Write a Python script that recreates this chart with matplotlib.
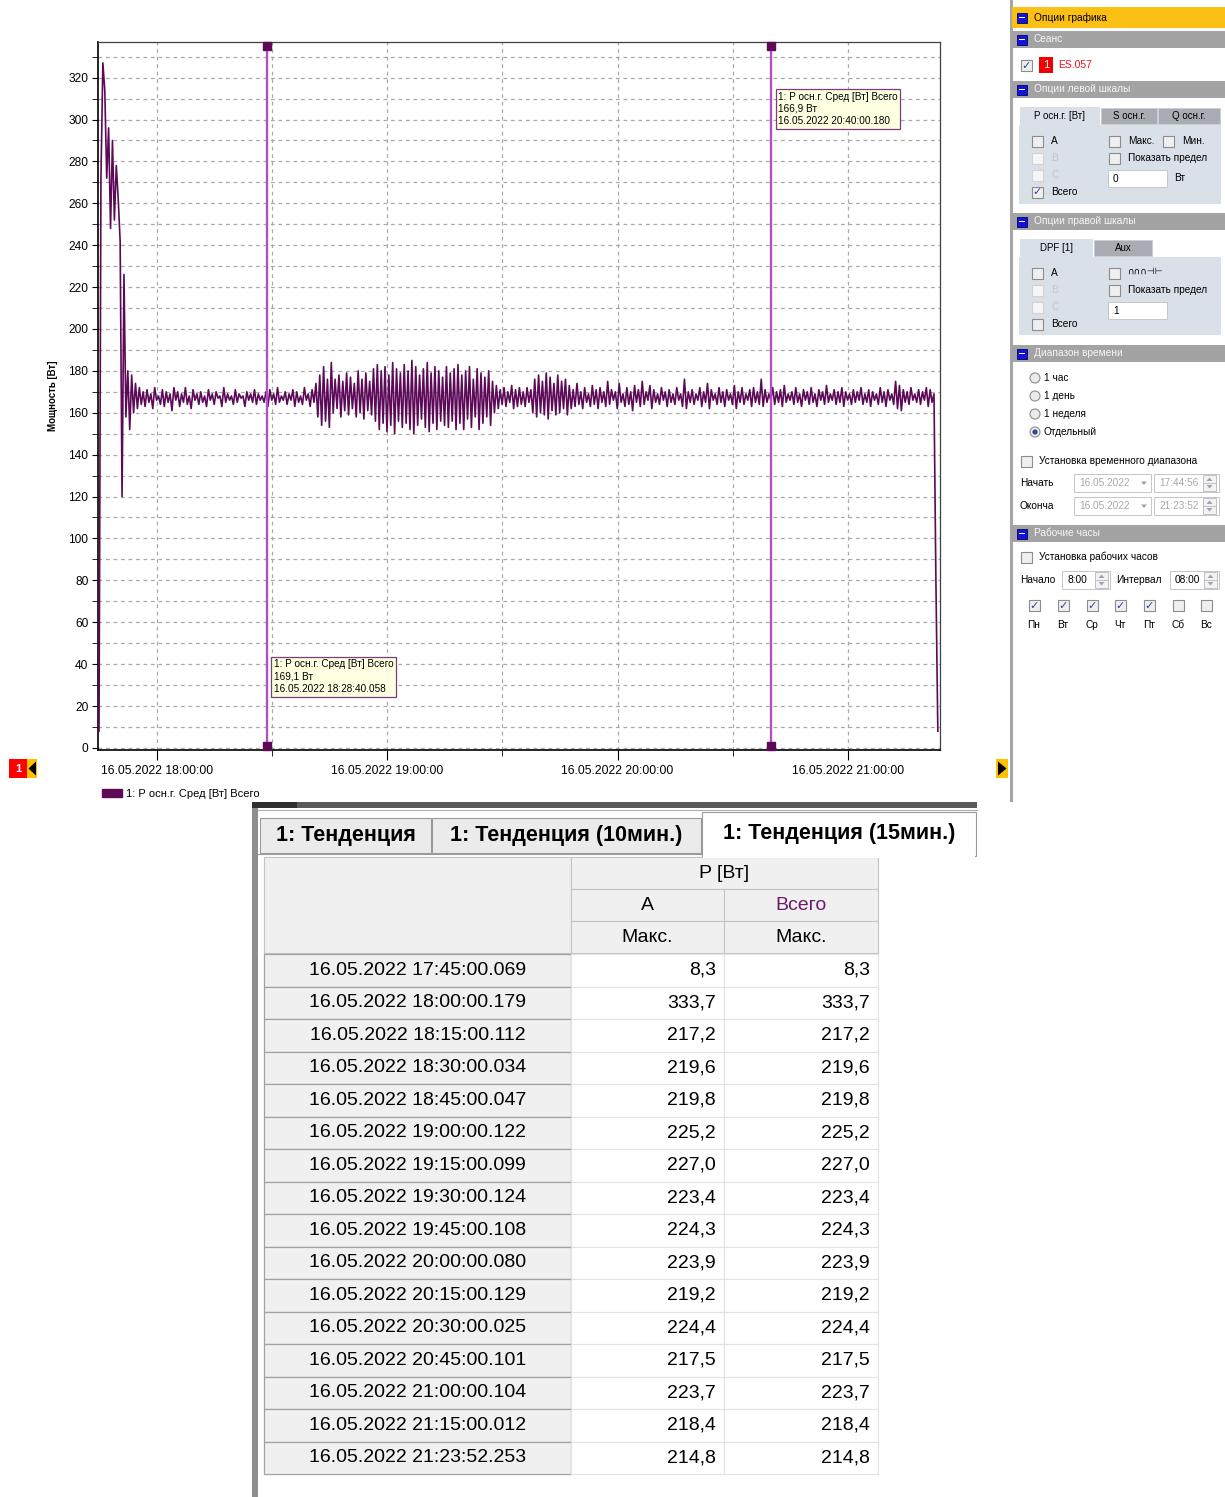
import datetime as dt
import numpy as np
import matplotlib
matplotlib.use('Agg')
import matplotlib.pyplot as plt
import matplotlib.dates as mdates
from matplotlib.patches import Rectangle, Circle, Polygon, Patch
from matplotlib.ticker import MultipleLocator
from matplotlib.transforms import blended_transform_factory

plt.rcParams['font.family'] = ['Liberation Sans', 'DejaVu Sans']

# Trend data: average total power [W], one sample every 30 s
start_time = dt.datetime(2022, 5, 16, 17, 44, 56)
sample_step = dt.timedelta(seconds=30)
power_total = [
    8, 272, 327, 314, 272, 296, 248, 290, 252, 278, 262, 242, 120, 226, 158, 180, 152, 178, 160, 174,
    162, 172, 164, 170, 163, 171, 165, 169, 162, 172, 166, 168, 164, 171, 163, 170, 165, 169, 161, 172,
    166, 170, 163, 169, 165, 172, 164, 168, 162, 171, 166, 169, 164, 170, 165, 168, 163, 171, 166, 169,
    164, 170, 167, 168, 163, 172, 165, 169, 166, 168, 164, 171, 165, 169, 167, 168, 163, 170, 166, 169,
    165, 171, 164, 169, 166, 168, 165, 170, 163, 171, 166, 169, 164, 172, 165, 168, 166, 170, 164, 169,
    166, 171, 163, 170, 165, 168, 164, 172, 166, 169, 163, 171, 165, 174, 158, 178, 154, 182, 156, 176,
    153, 184, 160, 176, 162, 178, 158, 175, 161, 179, 159, 177, 162, 174, 158, 180, 160, 176, 157, 179,
    161, 175, 159, 181, 156, 183, 152, 180, 155, 182, 151, 178, 154, 184, 150, 181, 156, 179, 153, 183,
    155, 180, 152, 185, 150, 182, 154, 178, 157, 181, 153, 184, 151, 179, 155, 182, 152, 180, 156, 177,
    154, 182, 153, 179, 156, 181, 152, 183, 155, 178, 152, 180, 157, 182, 153, 176, 158, 181, 152, 179,
    155, 177, 158, 180, 154, 175, 160, 173, 162, 171, 164, 172, 163, 170, 165, 173, 162, 171, 163, 172,
    164, 170, 163, 172, 165, 171, 160, 176, 158, 178, 160, 175, 159, 179, 157, 177, 161, 174, 159, 178,
    160, 175, 162, 176, 159, 173, 162, 171, 163, 174, 164, 170, 162, 172, 165, 169, 163, 173, 164, 171,
    162, 172, 165, 170, 163, 175, 164, 171, 166, 170, 162, 174, 165, 169, 163, 172, 164, 170, 161, 173,
    165, 171, 163, 175, 164, 170, 166, 173, 162, 171, 165, 169, 164, 172, 166, 170, 163, 171, 165, 169,
    164, 172, 166, 169, 163, 176, 162, 170, 165, 171, 164, 169, 166, 172, 163, 170, 165, 174, 162, 171,
    166, 169, 164, 172, 165, 170, 163, 171, 166, 169, 164, 173, 162, 170, 165, 172, 164, 169, 166, 171,
    163, 172, 165, 170, 164, 176, 163, 171, 165, 169, 166, 172, 164, 170, 165, 171, 163, 173, 165, 169,
    166, 170, 164, 172, 165, 169, 163, 171, 166, 170, 164, 172, 165, 169, 163, 171, 166, 170, 164, 173,
    165, 169, 166, 171, 164, 170, 165, 172, 163, 170, 166, 169, 164, 171, 165, 170, 166, 172, 164, 169,
    165, 171, 163, 170, 166, 169, 164, 172, 165, 170, 163, 171, 166, 169, 164, 175, 162, 173, 161, 171,
    165, 170, 164, 172, 166, 169, 165, 171, 164, 170, 166, 172, 163, 171, 165, 169, 80, 8,
]

cursor_times = [dt.datetime(2022, 5, 16, 18, 28, 40, 58000),
                dt.datetime(2022, 5, 16, 20, 40, 0, 180000)]
cursor_values = ['169,1 Вт', '166,9 Вт']
cursor_stamps = ['16.05.2022 18:28:40.058', '16.05.2022 20:40:00.180']
series_name = '1: Р осн.г. Сред [Вт] Всего'

# 15 min table
table_times = ['16.05.2022 17:45:00.069', '16.05.2022 18:00:00.179', '16.05.2022 18:15:00.112',
               '16.05.2022 18:30:00.034', '16.05.2022 18:45:00.047', '16.05.2022 19:00:00.122',
               '16.05.2022 19:15:00.099', '16.05.2022 19:30:00.124', '16.05.2022 19:45:00.108',
               '16.05.2022 20:00:00.080', '16.05.2022 20:15:00.129', '16.05.2022 20:30:00.025',
               '16.05.2022 20:45:00.101', '16.05.2022 21:00:00.104', '16.05.2022 21:15:00.012',
               '16.05.2022 21:23:52.253']
phase_a_max = [8.3, 333.7, 217.2, 219.6, 219.8, 225.2, 227.0, 223.4, 224.3, 223.9,
               219.2, 224.4, 217.5, 223.7, 218.4, 214.8]
total_max = [8.3, 333.7, 217.2, 219.6, 219.8, 225.2, 227.0, 223.4, 224.3, 223.9,
             219.2, 224.4, 217.5, 223.7, 218.4, 214.8]
tab_names = ['1: Тенденция', '1: Тенденция (10мин.)', '1: Тенденция (15мин.)']
weekdays = ['Пн', 'Вт', 'Ср', 'Чт', 'Пт', 'Сб', 'Вс']
weekdays_on = [True, True, True, True, True, False, False]

LINE = '#5c0a58'
CURSOR = '#b24fc4'

W, H = 1225, 1497
fig = plt.figure(figsize=(W / 100, H / 100), dpi=100)
fig.patch.set_facecolor('white')


def frac_box(x0, y0, x1, y1):
    return [x0 / W, 1 - y1 / H, (x1 - x0) / W, (y1 - y0) / H]


# overlay in pixel coordinates for the window widgets
ui = fig.add_axes([0, 0, 1, 1])
ui.set_xlim(0, W)
ui.set_ylim(H, 0)
ui.axis('off')


def rect(x, y, w, h, fc, ec='none', lw=0.8, z=1):
    ui.add_patch(Rectangle((x, y), w, h, facecolor=fc, edgecolor=ec, linewidth=lw, zorder=z))


def label(x, y, s, size=7.3, color='black', ha='left', **kw):
    ui.text(x, y, s, fontsize=size, color=color, ha=ha, va='center', zorder=5, **kw)


def checkbox(x, y, checked=False, enabled=True):
    rect(x, y - 5.5, 11, 11, '#efefef' if enabled else '#f6f6f6',
         ec='#8c8c8c' if enabled else '#d2d2d2', lw=0.8, z=3)
    if checked:
        ui.text(x + 5.5, y + 0.5, '✓', fontsize=8, color='#33449a', ha='center',
                va='center', zorder=5, family=['DejaVu Sans'])


def radio(x, y, selected=False):
    ui.add_patch(Circle((x, y), 5, facecolor='#ebebeb', edgecolor='#8c8c8c', lw=0.8, zorder=3))
    if selected:
        ui.add_patch(Circle((x, y), 2.6, facecolor='#2b4a9a', edgecolor='none', zorder=4))


def spinner(x, y0, h):
    rect(x, y0, 13, h, '#f3f3f3', ec='#b8b8b8', lw=0.6, z=3)
    ui.plot([x, x + 13], [y0 + h / 2] * 2, color='#b8b8b8', lw=0.6, zorder=4)
    cx = x + 6.5
    ui.add_patch(Polygon([[cx - 3, y0 + h / 2 - 2], [cx + 3, y0 + h / 2 - 2], [cx, y0 + 2.5]],
                         facecolor='#9aa4b4', edgecolor='none', zorder=5))
    ui.add_patch(Polygon([[cx - 3, y0 + h / 2 + 2], [cx + 3, y0 + h / 2 + 2], [cx, y0 + h - 2.5]],
                         facecolor='#9aa4b4', edgecolor='none', zorder=5))


def field(x0, y0, x1, y1, text='', color='black'):
    rect(x0, y0, x1 - x0, y1 - y0, 'white', ec='#c6c6c6', lw=0.7, z=3)
    if text:
        label(x0 + 5, (y0 + y1) / 2, text, color=color)


PX = 1012


def header(y0, y1, text, bg='#a3a3a3', fg='#f6f6f6'):
    rect(PX, y0, W - PX, y1 - y0, bg, z=2)
    cy = (y0 + y1) / 2
    rect(1017, cy - 5, 10, 10, '#1414d6', ec='#00006a', lw=0.6, z=3)
    rect(1019, cy - 0.9, 6, 1.8, 'white', z=4)
    label(1034, cy, text, color=fg)


def tab_group(y_tab, y_end, tabs):
    # tabs: list of (x0, x1, text, active)
    rect(1019, y_tab + 18, 1221 - 1019, y_end - y_tab - 18, '#dae0e7', z=2)
    for x0, x1, text, active in tabs:
        if active:
            rect(x0, y_tab, x1 - x0, 19, '#dae0e7', z=3)
        else:
            rect(x0, y_tab + 1, x1 - x0, 16, '#a9adb3', ec='#c9cdd2', lw=0.6, z=3)
        label((x0 + x1) / 2, y_tab + 9, text, ha='center', size=7.0)


# ---- right option panel ----
ui.plot([1011, 1011], [0, 800], color='#a6a6a6', lw=2.2, zorder=2)
header(7, 28, 'Опции графика', bg='#fcbf14', fg='black')
header(31, 48, 'Сеанс')
checkbox(1021, 65, checked=True)
rect(1039, 57, 14, 16, '#f00000', z=3)
label(1046, 65, '1', color='white', ha='center', size=8)
label(1058, 65, 'ES.057', color='#e8141e', size=7.5)

header(81, 98, 'Опции левой шкалы')
tab_group(107, 204, [(1020, 1100, 'P осн.г. [Вт]', True),
                     (1101, 1157, 'S осн.г.', False),
                     (1158, 1220, 'Q осн.г.', False)])
for y, name, on, en in [(141, 'A', False, True), (158, 'B', False, False),
                        (175, 'C', False, False), (192, 'Всего', True, True)]:
    checkbox(1032, y, checked=on, enabled=en)
    label(1051, y, name, color='black' if en else '#c4c4c4')
checkbox(1109, 141)
label(1128, 141, 'Макс.')
checkbox(1163, 141)
label(1182, 141, 'Мин.')
checkbox(1109, 158)
label(1128, 158, 'Показать предел')
field(1108, 170, 1167, 187, '0')
label(1174, 178, 'Вт')

header(213, 230, 'Опции правой шкалы')
tab_group(239, 335, [(1020, 1093, 'DPF [1]', True), (1094, 1152, 'Aux', False)])
for y, name, en in [(273, 'A', True), (290, 'B', False), (307, 'C', False), (324, 'Всего', True)]:
    checkbox(1032, y, enabled=en)
    label(1051, y, name, color='black' if en else '#c4c4c4')
checkbox(1109, 273)
label(1128, 271, '∩∩∩⊣⊢', size=6.5, family=['DejaVu Sans'])
checkbox(1109, 290)
label(1128, 290, 'Показать предел')
field(1108, 302, 1167, 319, '1')

header(345, 362, 'Диапазон времени')
for y, name, sel in [(378, '1 час', False), (396, '1 день', False),
                     (414, '1 неделя', False), (432, 'Отдельный', True)]:
    radio(1035, y, sel)
    label(1044, y, name)
checkbox(1021, 461)
label(1039, 461, 'Установка временного диапазона')
for y, name, tval in [(483, 'Начать', '17:44:56'), (506, 'Оконча', '21:23:52')]:
    label(1020, y, name)
    field(1074, y - 9, 1151, y + 9, '16.05.2022', color='#a8a8a8')
    ui.add_patch(Polygon([[1141, y - 1.5], [1147, y - 1.5], [1144, y + 2]],
                         facecolor='#a0a0a0', edgecolor='none', zorder=5))
    field(1154, y - 9, 1219, y + 9, tval, color='#a8a8a8')
    spinner(1203, y - 8, 16)

header(525, 542, 'Рабочие часы')
checkbox(1021, 557)
label(1039, 557, 'Установка рабочих часов')
label(1020, 580, 'Начало')
field(1062, 571, 1110, 589, '8:00')
spinner(1095, 572, 16)
label(1116, 580, 'Интервал')
field(1170, 571, 1219, 589, '08:00')
spinner(1204, 572, 16)
day_x = [1034, 1063, 1092, 1120, 1149, 1178, 1206]
for x, name, on in zip(day_x, weekdays, weekdays_on):
    checkbox(x - 5.5, 605, checked=on)
    label(x, 625, name, ha='center')

# ---- navigation arrows ----
rect(9, 759, 18, 19, '#ff0000', z=3)
label(18, 768.5, '1', color='white', ha='center', size=8, weight='bold')
rect(27, 759, 10, 19, '#ffc000', z=3)
ui.add_patch(Polygon([[28.5, 768.5], [36, 761.5], [36, 775.5]], facecolor='black', zorder=4))
rect(996, 759, 12, 19, '#ffc000', z=3)
ui.add_patch(Polygon([[1006.5, 768.5], [998, 761.5], [998, 775.5]], facecolor='black', zorder=4))

# ---- main chart ----
ax = fig.add_axes(frac_box(98, 42, 940, 750))
times = [start_time + i * sample_step for i in range(len(power_total))]
ax.plot(times, power_total, color=LINE, lw=1.2, zorder=3)

ax.set_xlim(dt.datetime(2022, 5, 16, 17, 44, 40), dt.datetime(2022, 5, 16, 21, 24, 0))
ax.set_ylim(-1, 337)
ax.yaxis.set_major_locator(MultipleLocator(20))
ax.yaxis.set_minor_locator(MultipleLocator(10))
ax.xaxis.set_major_locator(mdates.HourLocator())
ax.xaxis.set_minor_locator(mdates.MinuteLocator(byminute=[30]))
ax.xaxis.set_major_formatter(mdates.DateFormatter('%d.%m.%Y %H:%M:%S'))
ax.grid(which='both', color='#a9a9a9', linestyle=(0, (3, 3)), lw=0.9, zorder=0)
ax.tick_params(axis='x', which='major', length=7, labelsize=8.7, pad=4, direction='out')
ax.tick_params(axis='x', which='minor', length=4, direction='out')
ax.tick_params(axis='y', which='both', length=4, labelsize=8.6, pad=3, direction='out')
for side in ['left', 'bottom']:
    ax.spines[side].set_color('black')
    ax.spines[side].set_linewidth(1.2)
for side in ['top', 'right']:
    ax.spines[side].set_color('#404040')
    ax.spines[side].set_linewidth(0.9)
ax.set_ylabel('Мощность [Вт]', fontsize=7, weight='bold')
ax.yaxis.set_label_coords(-0.047, 0.5)

trans = blended_transform_factory(ax.transData, ax.transAxes)
tip_y = [43, 314]
for ct, val, stamp, ty in zip(cursor_times, cursor_values, cursor_stamps, tip_y):
    ax.axvline(ct, color=CURSOR, lw=1.7, zorder=4)
    for yy in (0.994, 0.006):
        ax.plot([ct], [yy], marker='s', ms=5.5, color=LINE, transform=trans,
                clip_on=False, zorder=5)
    ax.annotate('1: P осн.г. Сред [Вт] Всего\n' + val + '\n' + stamp,
                xy=(ct, ty), xytext=(5, -1), textcoords='offset points',
                ha='left', va='top', fontsize=7.2, linespacing=1.3, zorder=6,
                bbox=dict(boxstyle='square,pad=0.25', fc='#ffffe1', ec='#7d3b80', lw=0.9))

ax.legend(handles=[Patch(facecolor=LINE, edgecolor=LINE, label=series_name)],
          loc='upper left', bbox_to_anchor=(96 / W, 1 - 783 / H),
          bbox_transform=fig.transFigure, frameon=False, fontsize=8,
          handlelength=1.8, handleheight=0.8, borderpad=0, handletextpad=0.4)

# ---- bottom table window ----
rect(252, 802, 977 - 252, 6, '#5a5a5a', z=2)
rect(252, 802, 45, 6, '#2f2f2f', z=2)
rect(252, 808, 6, H - 808, '#8e8e8e', z=2)
ui.plot([258, 977], [810, 810], color='#b0b0b0', lw=0.8, zorder=2)

tabs_x = [(260, 431), (432, 701), (702, 976)]
for i, ((x0, x1), name) in enumerate(zip(tabs_x, tab_names)):
    if i == 2:
        rect(x0, 812, x1 - x0, 44, 'white', ec='#9a9a9a', lw=0.8, z=3)
        rect(x0 + 1, 850, x1 - x0 - 2, 8, 'white', z=4)
        ui.text((x0 + x1) / 2, 833, name, fontsize=15.5, weight='bold', ha='center',
                va='center', zorder=5)
    else:
        rect(x0, 818, x1 - x0, 35, '#ebebeb', ec='#9a9a9a', lw=0.8, z=3)
        ui.text((x0 + x1) / 2, 836, name, fontsize=15.5, weight='bold', ha='center',
                va='center', zorder=5)
ui.plot([258, 702], [854, 854], color='#9a9a9a', lw=0.8, zorder=3)

TX = [264, 571, 724, 878]
HY = [857, 889, 921, 953]
row_h = 32.5
hdr = '#f0f0f0'
rect(TX[0], HY[0], TX[1] - TX[0], HY[3] - HY[0], hdr, ec='#c4c4c4', lw=0.8, z=3)
rect(TX[1], HY[0], TX[3] - TX[1], HY[1] - HY[0], hdr, ec='#c4c4c4', lw=0.8, z=3)
ui.text((TX[1] + TX[3]) / 2, (HY[0] + HY[1]) / 2, 'P [Вт]', fontsize=14, ha='center',
        va='center', zorder=5)
for c, (sub, col) in enumerate([('A', 'black'), ('Всего', '#6a1a6a')]):
    for r, txt, color in [(1, sub, col), (2, 'Макс.', 'black')]:
        rect(TX[c + 1], HY[r], TX[c + 2] - TX[c + 1], HY[r + 1] - HY[r], hdr,
             ec='#c4c4c4', lw=0.8, z=3)
        ui.text((TX[c + 1] + TX[c + 2]) / 2, (HY[r] + HY[r + 1]) / 2, txt, fontsize=14,
                ha='center', va='center', color=color, zorder=5)

fmt = lambda v: f'{v:.1f}'.replace('.', ',')
for i, (stamp, a_val, t_val) in enumerate(zip(table_times, phase_a_max, total_max)):
    y0 = HY[3] + 1 + i * row_h
    rect(TX[0], y0, TX[1] - TX[0], row_h, hdr, ec='#a2a2a2', lw=0.9, z=3)
    rect(TX[1], y0, TX[2] - TX[1], row_h, 'white', ec='#e2e2e2', lw=0.8, z=3)
    rect(TX[2], y0, TX[3] - TX[2], row_h, 'white', ec='#e2e2e2', lw=0.8, z=3)
    cy = y0 + row_h / 2
    ui.text((TX[0] + TX[1]) / 2, cy, stamp, fontsize=14, ha='center', va='center', zorder=5)
    ui.text(TX[2] - 8, cy, fmt(a_val), fontsize=14, ha='right', va='center', zorder=5)
    ui.text(TX[3] - 8, cy, fmt(t_val), fontsize=14, ha='right', va='center', zorder=5)

fig.savefig('out.png', dpi=100, facecolor='white')
